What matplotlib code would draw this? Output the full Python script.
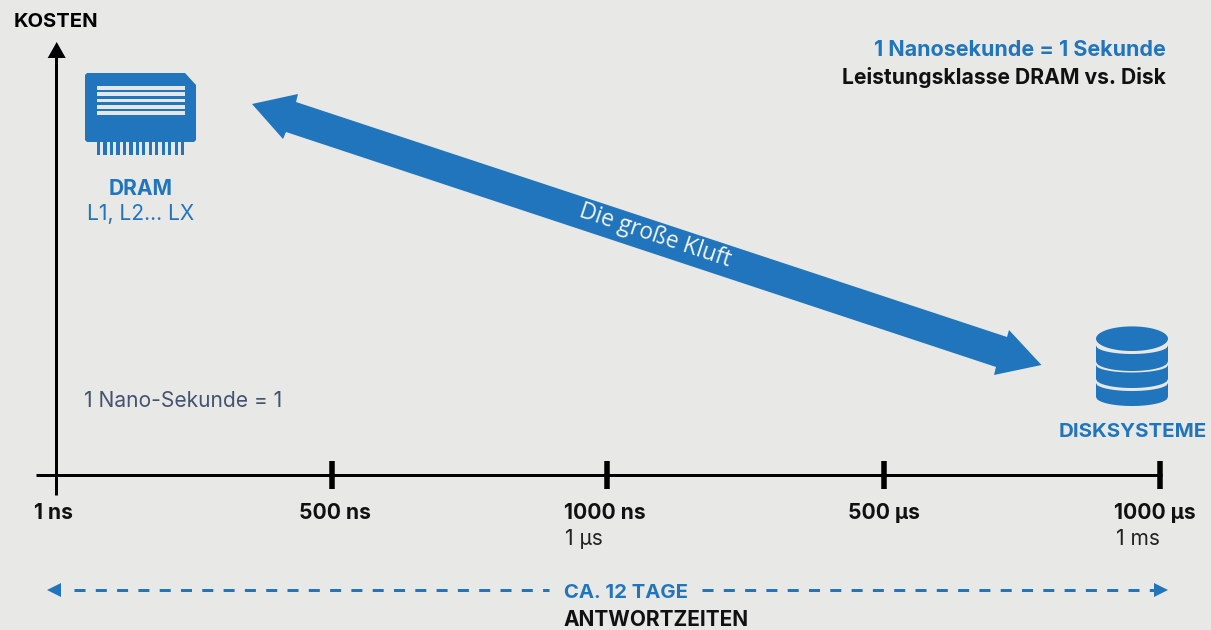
import numpy as np
import matplotlib
matplotlib.use("Agg")
import matplotlib.pyplot as plt
from matplotlib.patches import Polygon, Rectangle

FONT = "Inter"
BG = "#E8E8E7"
BLUE = "#2175BD"
TXT = "#111111"

tick_x = [56.2, 331.6, 607, 884, 1160]
tick_labels = ["1 ns", "500 ns", "1000 ns", "500 µs", "1000 µs"]
tick_label_x = [53, 335, 604.5, 884, 1155]
sub_labels = ["", "", "1 µs", "", "1 ms"]
sub_label_x = [0, 0, 584, 0, 1138]

gap_shaft = [(296, 102), (1007, 337), (1009, 330), (1041.5, 365), (994, 375), (996, 367),
             (286, 132), (283, 139), (252, 104), (298, 94)]

fig = plt.figure(figsize=(12.11, 6.30), dpi=100, facecolor=BG)
ax = fig.add_axes([0, 0, 1, 1])
ax.set_xlim(0, 1211)
ax.set_ylim(630, 0)
ax.axis("off")

def px(p):
    return p * 0.72

def T(x, y, s, size, color=TXT, weight="normal", ha="center", family=FONT, **kw):
    ax.text(x, y, s, fontsize=px(size), color=color, fontweight=weight, ha=ha, va="center",
            family=family, **kw)

# axes
ax.plot([36, 1162], [475, 475], color="black", lw=px(3), solid_capstyle="butt")
ax.plot([tick_x[0], tick_x[0]], [56, 495], color="black", lw=px(3), solid_capstyle="butt")
ax.add_patch(Polygon([(56.7, 42), (65.7, 58), (47.7, 58)], color="black", lw=0))
for x in tick_x[1:]:
    ax.plot([x, x], [461, 489], color="black", lw=px(5.5), solid_capstyle="butt")
for x, s in zip(tick_label_x, tick_labels):
    T(x, 513, s, 21, weight="bold")
for x, s in zip(sub_label_x, sub_labels):
    if s:
        T(x, 539, s, 21, color="#222222")

# titles
T(14, 22, "KOSTEN", 20.2, color="black", weight="bold", ha="left")
T(1166, 50, "1 Nanosekunde = 1 Sekunde", 21.5, color=BLUE, weight="bold", ha="right")
T(1166, 78, "Leistungsklasse DRAM vs. Disk", 21.1, color=TXT, weight="bold", ha="right")
T(84, 401, "1 Nano-Sekunde = 1", 21, color="#44536E", ha="left")

# big arrow
ax.add_patch(Polygon(gap_shaft, color=BLUE, lw=0))
T(655.5, 236, "Die große Kluft", 22.7, color="#F2F2F2", rotation=-18.5, rotation_mode="anchor",
  family="Open Sans")

# DRAM icon
ax.add_patch(Polygon([(85, 75), (87, 73), (185, 73), (196, 85), (196, 140), (194, 142), (87, 142), (85, 140)],
                     color=BLUE, lw=0))
for y in [88, 94, 100.5, 107, 113]:
    ax.add_patch(Rectangle((97, y - 1.6), 88, 3.2, color="#E4E6E8", lw=0))
for x in np.linspace(97, 181, 14):
    ax.add_patch(Rectangle((x, 142), 3.2, 13, color=BLUE, lw=0))
T(140.5, 189, "DRAM", 21, color=BLUE, weight="bold")
T(140.5, 214, "L1, L2... LX", 21, color=BLUE)

# Disk icon
cx, a = 1132, 36
u = np.linspace(-1, 1, 60)
t = np.linspace(0, 2 * np.pi, 100)
ax.add_patch(Polygon(np.c_[cx + a * np.cos(t), 338.7 + 12.3 * np.sin(t)], color=BLUE, lw=0))
for y0, y1, b0, b1 in [(345.5, 361.5, 8.5, 9.5), (365, 379, 7.5, 9), (383, 397, 8, 9)]:
    top = np.c_[cx + a * u, y0 + b0 * np.sqrt(1 - u ** 2)]
    bot = np.c_[cx + a * u[::-1], y1 + b1 * np.sqrt(1 - u[::-1] ** 2)]
    ax.add_patch(Polygon(np.r_[top, bot], color=BLUE, lw=0))
T(1132.5, 432, "DISKSYSTEME", 20.5, color=BLUE, weight="bold")

# range arrow
dash = (0, (3.67, 3.43))
ax.plot([74, 549], [590, 590], color=BLUE, lw=px(3), linestyle=dash)
ax.plot([702, 1155], [590, 590], color=BLUE, lw=px(3), linestyle=dash)
ax.add_patch(Polygon([(47, 590), (61, 583), (61, 597)], color=BLUE, lw=0))
ax.add_patch(Polygon([(1168, 590), (1154, 583), (1154, 597)], color=BLUE, lw=0))
T(626, 593, "CA. 12 TAGE", 20.3, color=BLUE, weight="bold")
T(656, 620.5, "ANTWORTZEITEN", 20.8, color=TXT, weight="bold")

fig.savefig("out.png", dpi=100, facecolor=BG)
